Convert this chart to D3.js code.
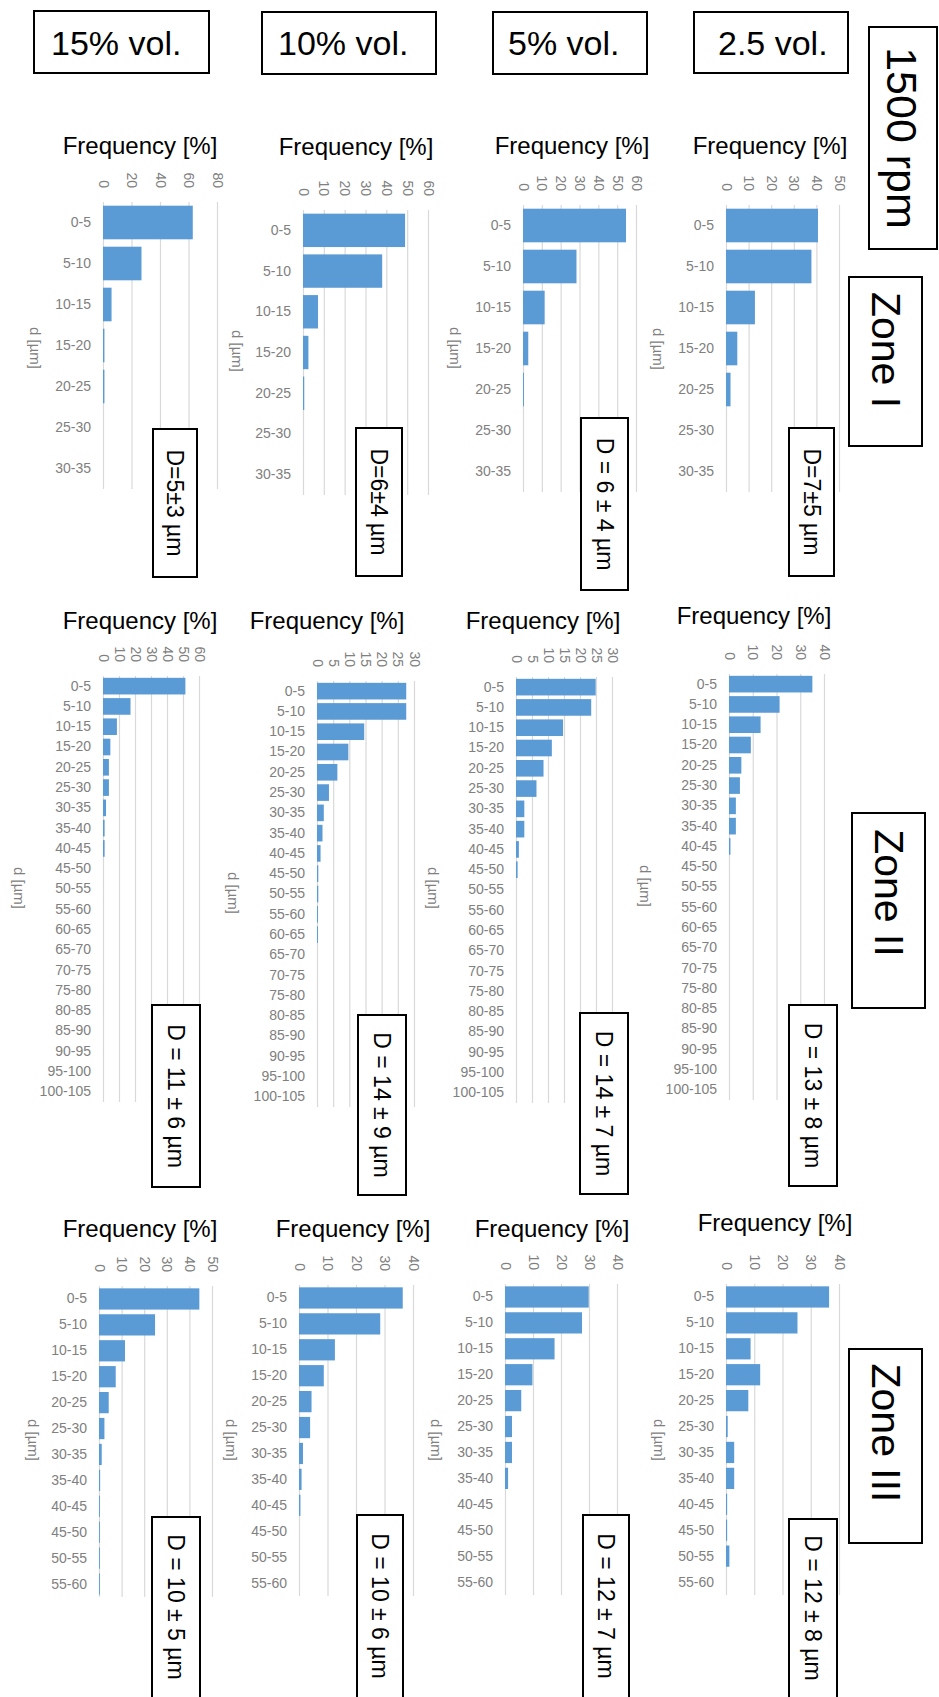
<!DOCTYPE html>
<html>
<head>
<meta charset="utf-8">
<script src="https://cdn.jsdelivr.net/npm/d3@7"></script>
<style>
  html, body { margin: 0; padding: 0; background: #fff; }
  svg { display: block; }
  text { font-family: "Liberation Sans", Arial, sans-serif; }
</style>
</head>
<body>
<svg id="fig" width="939" height="1697"></svg>
<script>
// ---- Column / row headings ----
const volumeLabels = ["15% vol.", "10% vol.", "5% vol.", "2.5 vol."];
const speedLabel = "1500 rpm";
const zoneLabels = ["Zone I", "Zone II", "Zone III"];

// ---- Droplet size classes d [µm] for each zone ----
const binsZoneI = ["0-5", "5-10", "10-15", "15-20", "20-25", "25-30", "30-35"];
const binsZoneII = ["0-5", "5-10", "10-15", "15-20", "20-25", "25-30", "30-35", "35-40", "40-45",
  "45-50", "50-55", "55-60", "60-65", "65-70", "70-75", "75-80", "80-85", "85-90", "90-95",
  "95-100", "100-105"];
const binsZoneIII = ["0-5", "5-10", "10-15", "15-20", "20-25", "25-30", "30-35", "35-40",
  "40-45", "45-50", "50-55", "55-60"];

// ---- Frequency [%] per size class ----
const zoneI_15 = [63, 27, 6, 1, 1, 0, 0];
const zoneI_10 = [49, 38, 7.2, 2.6, 0.6, 0, 0];
const zoneI_5 = [54.7, 28.4, 11.5, 2.8, 0.5, 0, 0];
const zoneI_2_5 = [40.7, 37.8, 12.8, 5, 2, 0, 0];

const zoneII_15 = [51.5, 17.2, 8.7, 4.6, 3.7, 3.7, 1.9, 1.0, 1.0, 0, 0, 0, 0, 0, 0, 0, 0, 0, 0, 0, 0];
const zoneII_10 = [27.6, 27.6, 14.6, 9.7, 6.3, 3.7, 2.1, 1.7, 1.1, 0.4, 0.4, 0.3, 0.3, 0, 0, 0, 0, 0, 0, 0, 0];
const zoneII_5 = [24.9, 23.5, 14.7, 11.2, 8.6, 6.4, 2.6, 2.6, 0.9, 0.5, 0, 0, 0, 0, 0, 0, 0, 0, 0, 0, 0];
const zoneII_2_5 = [35.1, 21.3, 13.3, 9.2, 5.2, 4.6, 2.9, 2.9, 0.6, 0, 0, 0, 0, 0, 0, 0, 0, 0, 0, 0, 0];

const zoneIII_15 = [44.4, 24.8, 11.5, 7.4, 4.3, 2.4, 1.2, 0.5, 0.4, 0.4, 0.4, 0.4];
const zoneIII_10 = [36.4, 28.5, 12.6, 8.7, 4.4, 3.9, 1.4, 0.9, 0.5, 0, 0, 0];
const zoneIII_5 = [29.9, 27.5, 17.7, 9.8, 5.8, 2.5, 2.5, 1.1, 0, 0, 0, 0];
const zoneIII_2_5 = [36.5, 25.3, 8.7, 12.1, 7.9, 0.6, 2.9, 2.9, 0.4, 0.4, 1.2, 0];

// ---- Frequency axis tick values ----
const ticksZoneI = [[0, 20, 40, 60, 80], [0, 10, 20, 30, 40, 50, 60], [0, 10, 20, 30, 40, 50, 60], [0, 10, 20, 30, 40, 50]];
const ticksZoneII = [[0, 10, 20, 30, 40, 50, 60], [0, 5, 10, 15, 20, 25, 30], [0, 5, 10, 15, 20, 25, 30], [0, 10, 20, 30, 40]];
const ticksZoneIII = [[0, 10, 20, 30, 40, 50], [0, 10, 20, 30, 40], [0, 10, 20, 30, 40], [0, 10, 20, 30, 40]];

// ---- Mean droplet diameter labels ----
const meanLabelsZoneI = ["D=5±3 µm", "D=6±4 µm", "D = 6 ± 4 µm", "D=7±5 µm"];
const meanLabelsZoneII = ["D = 11 ± 6 µm", "D = 14 ± 9 µm", "D = 14 ± 7 µm", "D = 13 ± 8 µm"];
const meanLabelsZoneIII = ["D = 10 ± 5 µm", "D = 10 ± 6 µm", "D = 12 ± 7 µm", "D = 12 ± 8 µm"];

const frequencyTitle = "Frequency [%]";
const sizeTitle = "d [µm]";

// Assemble the 3 x 4 grid of histograms
const zoneBins = [binsZoneI, binsZoneII, binsZoneIII];
const zoneValues = [
  [zoneI_15, zoneI_10, zoneI_5, zoneI_2_5],
  [zoneII_15, zoneII_10, zoneII_5, zoneII_2_5],
  [zoneIII_15, zoneIII_10, zoneIII_5, zoneIII_2_5]
];
const zoneTicks = [ticksZoneI, ticksZoneII, ticksZoneIII];
const zoneMeans = [meanLabelsZoneI, meanLabelsZoneII, meanLabelsZoneIII];

// Plot-area geometry for each panel: [x of 0, x of axis max, top, bottom]
const plotArea = [
  [[103, 217, 202, 489], [303, 428, 210, 495], [523, 636, 205, 492], [726, 839, 205, 492]],
  [[103, 199, 676, 1102], [317, 414, 681, 1107], [516, 612, 677, 1103], [729, 824, 674, 1100]],
  [[99, 212, 1286, 1597], [299, 413, 1285, 1596], [505, 617, 1284, 1595], [726, 839, 1284, 1595]]
];
// Chart title anchor [centre x, baseline]
const titlePos = [
  [[140, 154], [356, 155], [572, 154], [770, 154]],
  [[140, 629], [327, 629], [543, 629], [754, 624]],
  [[140, 1237], [353, 1237], [552, 1237], [775, 1231]]
];
// Size-axis title centre
const sizeTitlePos = [
  [[35, 348], [237, 351], [455, 348], [658, 349]],
  [[19, 888], [233, 893], [433, 888], [645, 886]],
  [[33, 1440], [231, 1440], [436, 1440], [659, 1440]]
];
// Mean-diameter box [x0, y0, x1, y1]
const meanBox = [
  [[153, 429, 197, 577], [356, 428, 402, 576], [581, 418, 628, 590], [789, 428, 834, 576]],
  [[152, 1005, 200, 1187], [358, 1015, 406, 1195], [580, 1013, 628, 1194], [789, 1005, 837, 1186]],
  [[152, 1517, 200, 1702], [357, 1515, 403, 1702], [583, 1515, 629, 1702], [789, 1519, 837, 1702]]
];

const svg = d3.select("#fig");
svg.append("rect").attr("width", 939).attr("height", 1697).attr("fill", "#fff");

const BAR = "#5b9bd5";
const GRID = "#d9d9d9";
const AXIS_TEXT = "#808080";

zoneBins.forEach((bins, zi) => {
  for (let vi = 0; vi < 4; vi++) {
    const [x0, x1, yTop, yBot] = plotArea[zi][vi];
    const ticks = zoneTicks[zi][vi];
    const values = zoneValues[zi][vi];
    const g = svg.append("g");

    const x = d3.scaleLinear().domain([0, ticks[ticks.length - 1]]).range([x0, x1]);
    const y = d3.scaleBand().domain(bins).range([yTop, yBot]).paddingInner(0.18).paddingOuter(0.09);

    // vertical gridlines
    g.append("g")
      .attr("transform", `translate(0,${yTop})`)
      .call(d3.axisTop(x).tickValues(ticks).tickSize(-(yBot - yTop)).tickFormat(""))
      .call(s => s.select(".domain").remove())
      .call(s => s.selectAll("line").attr("stroke", GRID).attr("stroke-width", 1.2));

    // frequency tick labels, turned 90°
    g.append("g")
      .attr("transform", `translate(0,${yTop})`)
      .call(d3.axisTop(x).tickValues(ticks).tickSize(0).tickFormat(d3.format("d")))
      .call(s => s.select(".domain").remove())
      .call(s => s.selectAll("text")
        .attr("x", 0).attr("y", 0).attr("dy", null)
        .attr("transform", "translate(0,-14) rotate(90)")
        .attr("text-anchor", "end")
        .attr("dominant-baseline", "central")
        .attr("fill", AXIS_TEXT)
        .style("font-size", "14px")
        .style("font-family", "'Liberation Sans', Arial, sans-serif"));

    // size-class labels
    g.append("g")
      .attr("transform", `translate(${x0},0)`)
      .call(d3.axisLeft(y).tickSize(0).tickPadding(12))
      .call(s => s.select(".domain").remove())
      .call(s => s.selectAll("text")
        .attr("fill", AXIS_TEXT)
        .style("font-size", "14px")
        .style("font-family", "'Liberation Sans', Arial, sans-serif"));

    // bars
    g.append("g").selectAll("rect")
      .data(bins.map((b, i) => ({ bin: b, v: values[i] })))
      .join("rect")
      .attr("x", x(0))
      .attr("y", d => y(d.bin))
      .attr("width", d => x(d.v) - x(0))
      .attr("height", y.bandwidth())
      .attr("fill", BAR);

    // chart title
    const [tx, ty] = titlePos[zi][vi];
    g.append("text").attr("x", tx).attr("y", ty)
      .attr("text-anchor", "middle").attr("fill", "#000")
      .style("font-size", "24px").text(frequencyTitle);

    // size-axis title
    const [sx, sy] = sizeTitlePos[zi][vi];
    g.append("text")
      .attr("transform", `translate(${sx},${sy}) rotate(90)`)
      .attr("text-anchor", "middle").attr("dominant-baseline", "central")
      .attr("fill", AXIS_TEXT).style("font-size", "15px").text(sizeTitle);

    // mean diameter box
    const [bx0, by0, bx1, by1] = meanBox[zi][vi];
    g.append("rect").attr("x", bx0).attr("y", by0)
      .attr("width", bx1 - bx0).attr("height", by1 - by0)
      .attr("fill", "#fff").attr("stroke", "#000").attr("stroke-width", 2);
    const meanCy = Math.min((by0 + by1) / 2, (by0 + 1697) / 2);
    g.append("text")
      .attr("transform", `translate(${(bx0 + bx1) / 2},${meanCy}) rotate(90)`)
      .attr("text-anchor", "middle").attr("dominant-baseline", "central")
      .attr("fill", "#000").style("font-size", "23px").text(zoneMeans[zi][vi]);
  }
});

// column headings
const headBoxes = [[34, 11, 209, 73, 51], [262, 12, 436, 74, 278], [493, 12, 647, 74, 508], [694, 12, 848, 73, 718]];
volumeLabels.forEach((lab, i) => {
  const [a, b, c, d, tx] = headBoxes[i];
  svg.append("rect").attr("x", a).attr("y", b).attr("width", c - a).attr("height", d - b)
    .attr("fill", "#fff").attr("stroke", "#000").attr("stroke-width", 2);
  svg.append("text").attr("x", tx).attr("y", 55).attr("fill", "#000")
    .style("font-size", "34px").text(lab);
});

// speed heading
svg.append("rect").attr("x", 869).attr("y", 27).attr("width", 68).attr("height", 222)
  .attr("fill", "#fff").attr("stroke", "#000").attr("stroke-width", 2);
svg.append("text").attr("transform", "translate(902,138) rotate(90)")
  .attr("text-anchor", "middle").attr("dominant-baseline", "central")
  .attr("fill", "#000").style("font-size", "43px").text(speedLabel);

// zone headings
const zoneBoxes = [[849, 277, 922, 446, 350], [852, 813, 925, 1008, 893], [849, 1349, 922, 1543, 1433]];
zoneLabels.forEach((lab, i) => {
  const [a, b, c, d, cy] = zoneBoxes[i];
  svg.append("rect").attr("x", a).attr("y", b).attr("width", c - a).attr("height", d - b)
    .attr("fill", "#fff").attr("stroke", "#000").attr("stroke-width", 2);
  svg.append("text").attr("transform", `translate(${(a + c) / 2},${cy}) rotate(90)`)
    .attr("text-anchor", "middle").attr("dominant-baseline", "central")
    .attr("fill", "#000").style("font-size", "41px").text(lab);
});
</script>
</body>
</html>
